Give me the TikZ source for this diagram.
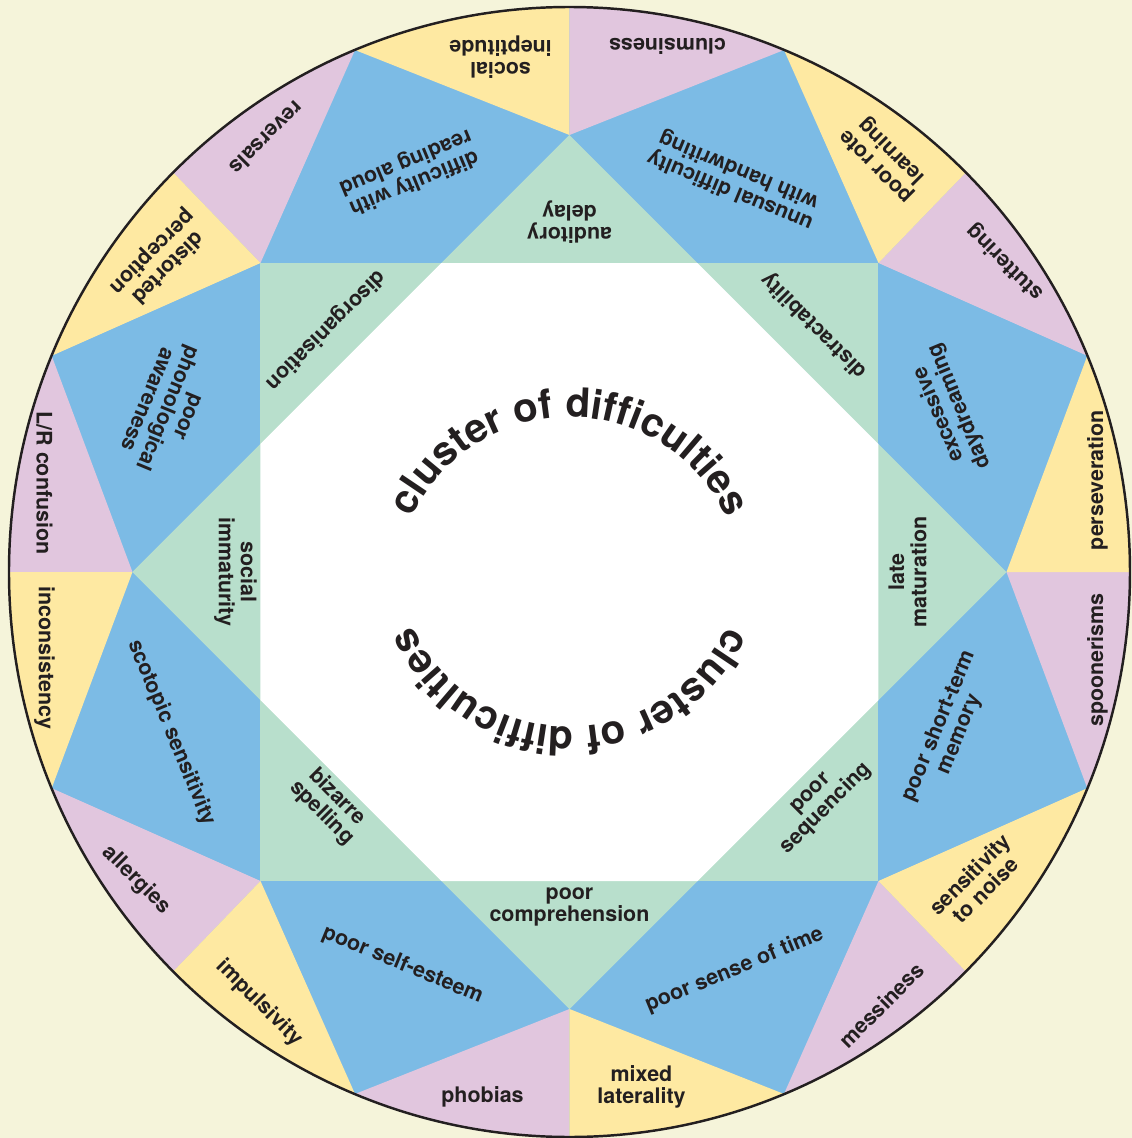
\documentclass[tikz,border=0pt]{standalone}
\usepackage{fontspec}
\setmainfont{TeX Gyre Heros}
\usepackage{tikz}
\usetikzlibrary{decorations.text}

\definecolor{paper}{RGB}{245,244,218}
\definecolor{kite}{RGB}{124,187,229}
\definecolor{mint}{RGB}{184,223,204}
\definecolor{lilac}{RGB}{225,198,222}
\definecolor{butter}{RGB}{254,233,162}
\definecolor{ink}{RGB}{35,31,32}

\tikzset{lbl/.style={font=\fontsize{12.2}{12.6}\selectfont\bfseries, text=ink, align=center, inner sep=0pt}}

\begin{document}
\begin{tikzpicture}
    \fill[paper] (-11.39,-11.32) rectangle (11.25,11.44);
    \useasboundingbox (-11.39,-11.32) rectangle (11.25,11.44);

    % outer ring: blue kites underneath, lilac and butter wedges on top
    \fill[kite] (0,0) ellipse[x radius=11.21, y radius=11.3];
    \foreach \a in {0,45,...,315}{
        \fill[lilac] (\a:8.74) -- (\a:11.21 and 11.3) arc[start angle=\a, end angle=\a-22.5, x radius=11.21, y radius=11.3] -- cycle;
        \fill[butter] (\a:8.74) -- (\a:11.21 and 11.3) arc[start angle=\a, end angle=\a+22.5, x radius=11.21, y radius=11.3] -- cycle;
    }
    % green star with the white octagon inside
    \fill[mint] (-6.18,-6.18) rectangle (6.18,6.18);
    \fill[mint] (0,8.74) -- (8.74,0) -- (0,-8.74) -- (-8.74,0) -- cycle;
    \fill[white] (2.56,6.18) -- (6.18,2.56) -- (6.18,-2.56) -- (2.56,-6.18) -- (-2.56,-6.18) -- (-6.18,-2.56) -- (-6.18,2.56) -- (-2.56,6.18) -- cycle;
    \draw[ink, line width=1.4pt] (0,0) ellipse[x radius=11.21, y radius=11.3];

    % wedges
    \node[lbl, rotate=180] (clum) at (1.96,10.52) {clumsiness};
    \node[lbl, rotate=180] (inept) at (-1.38,10.30) {social\\ineptitude};
    \node[lbl, rotate=135] (rote) at (6.30,8.28) {poor rote\\learning};
    \node[lbl, rotate=135] (stut) at (8.72,6.20) {stuttering};
    \node[lbl, rotate=90] (persev) at (10.56,1.84) {perseveration};
    \node[lbl, rotate=90] (spoon) at (10.56,-1.76) {spoonerisms};
    \node[lbl, rotate=45] (noise) at (8.16,-6.20) {sensitivity\\to noise};
    \node[lbl, rotate=45] (mess) at (6.24,-8.66) {messiness};
    \node[lbl] (mixed) at (1.44,-10.30) {mixed\\laterality};
    \node[lbl] (phob) at (-1.74,-10.50) {phobias};
    \node[lbl, rotate=-45] (impuls) at (-6.20,-8.62) {impulsivity};
    \node[lbl, rotate=-45] (allerg) at (-8.66,-6.16) {allergies};
    \node[lbl, rotate=-90] (incons) at (-10.50,-1.72) {inconsistency};
    \node[lbl, rotate=-90] (lr) at (-10.50,1.78) {L/R confusion};
    \node[lbl, rotate=-135] (distort) at (-8.20,6.25) {distorted\\perception};
    \node[lbl, rotate=-135] (revers) at (-6.06,8.68) {reversals};

    % kites
    \node[lbl, rotate=-157.5] (aloud) at (-3.20,8.00) {difficulty with\\reading aloud};
    \node[lbl, rotate=157.5] (handw) at (3.30,7.84) {unusual difficulty\\with handwriting};
    \node[lbl, rotate=112.5] (daydr) at (7.60,3.24) {excessive\\daydreaming};
    \node[lbl, rotate=67.5] (stm) at (7.60,-3.16) {poor short-term\\memory};
    \node[lbl, rotate=22.5] (time) at (3.30,-7.96) {poor sense of time};
    \node[lbl, rotate=-22.5] (esteem) at (-3.34,-7.86) {poor self-esteem};
    \node[lbl, rotate=-67.5] (scotop) at (-7.96,-3.22) {scotopic sensitivity};
    \node[lbl, rotate=-112.5] (phono) at (-8.04,3.28) {poor\\phonological\\awareness};

    % star points
    \node[lbl, rotate=180] (audit) at (0,7.0) {auditory\\delay};
    \node[lbl, rotate=135] (distr) at (4.90,4.94) {distractability};
    \node[lbl, rotate=90] (late) at (6.76,0) {late\\maturation};
    \node[lbl, rotate=45] (seq) at (5.0,-4.6) {poor\\sequencing};
    \node[lbl] (compr) at (0,-6.70) {poor\\comprehension};
    \node[lbl, rotate=-45] (bizarre) at (-4.8,-4.66) {bizarre\\spelling};
    \node[lbl, rotate=-90] (immat) at (-6.68,0) {social\\immaturity};
    \node[lbl, rotate=-135] (disorg) at (-4.88,4.84) {disorganisation};

    % curved title, twice
    \path[decorate, decoration={text along path, text align=center, text color=ink,
        text={|\fontsize{23}{23}\selectfont\bfseries|cluster of difficulties}}]
        (0,-0.36) ++(170:3.46) arc[start angle=170, end angle=10, radius=3.46];
    \path[decorate, decoration={text along path, text align=center, text color=ink,
        text={|\fontsize{23}{23}\selectfont\bfseries|cluster of difficulties}}]
        (0,0.36) ++(-10:3.46) arc[start angle=-10, end angle=-170, radius=3.46];
\end{tikzpicture}
\end{document}
